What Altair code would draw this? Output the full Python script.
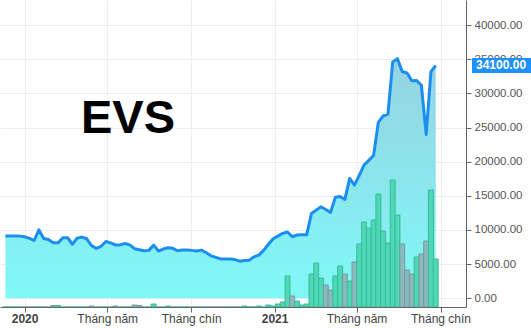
import altair as alt
import pandas as pd

# weekly closing prices (VND)
prices = [9090, 9090, 9090, 9090, 9000, 8750, 8450, 10000, 8750, 8600,
          8100, 8100, 8850, 8850, 7900, 8800, 8950, 8700, 7700, 7300,
          7600, 8300, 8100, 7800, 7800, 8000, 7800, 7250, 7100, 6950,
          7000, 7770, 6900, 7200, 7380, 7300, 6940, 7040, 7040, 7000,
          6900, 7040, 6650, 6200, 5980, 5750, 5720, 5720, 5650, 5420,
          5520, 5570, 6050, 6300, 7000, 7900, 8700, 9090, 9500, 9700,
          9000, 9250, 9280, 9280, 12400, 12900, 13390, 13000, 12560, 14800,
          14900, 14470, 17550, 16570, 18000, 19500, 20200, 20900, 25800, 26700,
          26970, 34600, 35100, 33200, 33000, 31850, 31900, 31200, 24000, 33190,
          34100]

# weekly volume (thousand shares)
volumes = [0, 0, 0, 0, 0, 0, 0, 0, 0, 0,
           3, 3, 0, 0, 0, 0, 0, 0, 2, 0,
           0, 0, 0, 2, 0, 0, 0, 4, 3, 0,
           0, 6, 0, 0, 2, 0, 0, 0, 0, 0,
           0, 0, 0, 0, 0, 0, 0, 0, 0, 0,
           2, 0, 0, 2, 0, 4, 2, 6, 10, 62,
           22, 12, 4, 6, 66, 88, 58, 44, 34, 62,
           82, 66, 52, 90, 126, 170, 158, 174, 226, 152,
           128, 254, 184, 126, 74, 66, 100, 106, 132, 234,
           96]

dates = pd.date_range("2019-12-04", periods=len(prices), freq="7D")
ticker = "EVS"

up = ["up"] + ["up" if prices[i] >= prices[i - 1] else "down" for i in range(1, len(prices))]
df = pd.DataFrame({"date": dates.strftime("%Y-%m-%dT00:00:00"), "price": prices,
                   "volume": volumes, "dir": up})
last = df.tail(1)

W, H = 466, 307
PRICE_DOMAIN = [-1300, 43700]
x_dom = [alt.DateTime(year=2019, month=12, date=3, hours=8), alt.DateTime(year=2021, month=10, date=1)]
tick_vals = [alt.DateTime(year=2020, month=1, date=1), alt.DateTime(year=2020, month=5, date=1),
             alt.DateTime(year=2020, month=9, date=1), alt.DateTime(year=2021, month=1, date=1),
             alt.DateTime(year=2021, month=5, date=1), alt.DateTime(year=2021, month=9, date=1)]

x_axis = alt.Axis(values=tick_vals, title=None, grid=True, gridColor="#EEEEEE",
                  labelExpr="month(datum.value) == 0 ? timeFormat(datum.value, '%Y') : (month(datum.value) == 4 ? 'Tháng năm' : 'Tháng chín')",
                  labelFontWeight=alt.expr("month(datum.value) == 0 ? 'bold' : 'normal'"),
                  labelFont="Liberation Sans", labelFontSize=12, labelColor="#444444",
                  domainColor="#666666", tickColor="#666666", tickSize=5, labelPadding=1,
                  labelFlush=False)
x_enc = alt.X("date:T", scale=alt.Scale(domain=x_dom), axis=x_axis)

y_axis = alt.Axis(orient="right", values=list(range(0, 40001, 5000)), format=".2f", title=None,
                  grid=True, gridColor="#EEEEEE", labelFont="Liberation Sans", labelFontSize=11.5,
                  labelColor="#555555", domainColor="#666666", tickColor="#666666", tickSize=5,
                  labelPadding=3)

base = alt.Chart(df)

area = base.mark_area(
    color=alt.Gradient(gradient="linear",
                       stops=[alt.GradientStop(color="#97D2E2", offset=0),
                              alt.GradientStop(color="#7FF9F6", offset=1)],
                       x1=1, x2=1, y1=0, y2=1)
).encode(
    x=x_enc,
    y=alt.Y("price:Q", scale=alt.Scale(domain=PRICE_DOMAIN), axis=y_axis),
    y2=alt.value("height"),
)

bars = base.mark_bar(width=4.9, strokeWidth=1, clip=True).encode(
    x=x_enc,
    y=alt.Y("volume:Q", scale=alt.Scale(domain=[0, 614]), axis=None),
    fill=alt.Fill("dir:N", scale=alt.Scale(domain=["up", "down"], range=["#4FD8B6", "#8DB9BC"]), legend=None),
    stroke=alt.Stroke("dir:N", scale=alt.Scale(domain=["up", "down"], range=["#38BA9A", "#6E9FA3"]), legend=None),
)

line = base.mark_line(color="#1B8EF0", strokeWidth=3, strokeJoin="round").encode(
    x=x_enc,
    y=alt.Y("price:Q", scale=alt.Scale(domain=PRICE_DOMAIN), axis=None),
)

box = alt.Chart(last).mark_tick(color="#1E90FF", thickness=15, size=59, opacity=1, orient="horizontal").encode(
    x=alt.value(501.5),
    y=alt.Y("price:Q", scale=alt.Scale(domain=PRICE_DOMAIN), axis=None),
)

box_text = alt.Chart(last).mark_text(color="white", font="Liberation Sans", fontSize=12,
                                     fontWeight="bold", align="left", baseline="middle").encode(
    x=alt.value(476),
    y=alt.Y("price:Q", scale=alt.Scale(domain=PRICE_DOMAIN), axis=None),
    text=alt.Text("price:Q", format=".2f"),
)

title = alt.Chart(pd.DataFrame({"t": [ticker]})).mark_text(
    font="Liberation Sans", fontSize=47, fontWeight="bold", color="black",
    align="center", baseline="alphabetic"
).encode(x=alt.value(128), y=alt.value(133), text="t:N")

chart = alt.layer(area, bars, line, box, box_text, title).resolve_scale(
    y="independent"
).properties(
    width=W, height=H,
    autosize=alt.AutoSizeParams(type="none"),
    padding={"left": 0, "top": 0, "right": 65, "bottom": 21},
    background="white",
).configure_view(stroke=None)

chart.save("out.html", embed_options={"renderer": "svg", "actions": False})
